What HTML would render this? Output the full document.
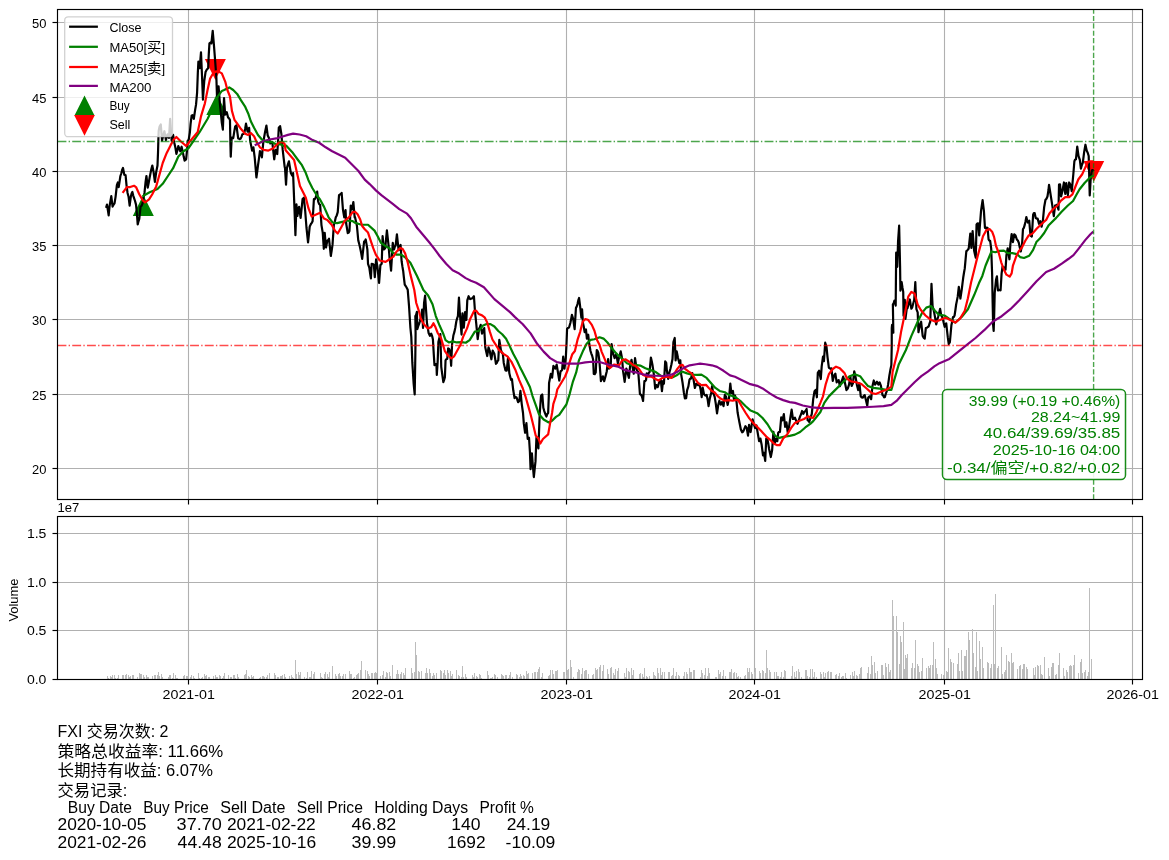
<!DOCTYPE html>
<html lang="zh"><head><meta charset="utf-8"><title>FXI</title>
<style>html,body{margin:0;padding:0;background:#fff}svg{display:block;will-change:transform}</style></head>
<body>
<svg width="1169" height="860" viewBox="0 0 1169 860" font-family='"Liberation Sans", "Noto Sans CJK SC", sans-serif'>
<rect width="1169" height="860" fill="#fff"/>
<g id="main">
<g stroke="#b0b0b0" stroke-width="1.1" fill="none">
<line x1="188.5" y1="9.5" x2="188.5" y2="499.5"/>
<line x1="377.5" y1="9.5" x2="377.5" y2="499.5"/>
<line x1="566.5" y1="9.5" x2="566.5" y2="499.5"/>
<line x1="754.5" y1="9.5" x2="754.5" y2="499.5"/>
<line x1="944.5" y1="9.5" x2="944.5" y2="499.5"/>
<line x1="1132.5" y1="9.5" x2="1132.5" y2="499.5"/>
<line x1="57.5" y1="468.5" x2="1142.5" y2="468.5"/>
<line x1="57.5" y1="394.5" x2="1142.5" y2="394.5"/>
<line x1="57.5" y1="319.5" x2="1142.5" y2="319.5"/>
<line x1="57.5" y1="245.5" x2="1142.5" y2="245.5"/>
<line x1="57.5" y1="171.5" x2="1142.5" y2="171.5"/>
<line x1="57.5" y1="97.5" x2="1142.5" y2="97.5"/>
<line x1="57.5" y1="22.5" x2="1142.5" y2="22.5"/>
</g>
<polygon points="143.3,195.1 132.8,216.1 153.8,216.1" fill="#008000"/>
<polygon points="216.8,94.0 206.3,115.0 227.3,115.0" fill="#008000"/>
<polygon points="215.4,79.9 204.9,58.900000000000006 225.9,58.900000000000006" fill="#ff0000"/>
<polygon points="1093.8,181.70000000000002 1083.3999999999999,160.9 1104.2,160.9" fill="#ff0000"/>
<path d="M106.07,207.89 L106.98,204.64 L107.83,209.82 L108.67,215.44 L109.58,205.94 L110.43,201.10 L111.28,196.17 L112.58,206.59 L113.56,204.73 L114.53,203.33 L115.57,196.82 L116.88,185.10 L117.79,182.50 L118.70,187.06 L119.55,181.61 L120.39,175.99 L121.26,173.51 L122.12,169.89 L122.99,167.92 L124.30,174.69 L125.60,175.34 L126.51,185.10 L127.55,192.92 L128.59,196.82 L129.64,205.68 L130.81,196.82 L131.59,193.60 L132.37,192.01 L133.22,195.55 L134.06,198.12 L135.04,201.01 L136.02,204.64 L136.93,213.75 L137.71,224.43 L138.49,221.30 L139.27,218.96 L140.57,206.59 L141.55,205.85 L142.53,203.33 L143.50,198.10 L144.48,192.92 L145.52,182.50 L146.43,175.99 L147.73,187.71 L148.71,182.84 L149.69,177.29 L150.47,173.36 L151.25,169.48 L152.29,165.57 L153.59,172.08 L154.90,181.85 L156.20,172.08 L157.50,165.57 L158.02,152.55 L158.41,138.23 L158.67,131.07 L159.58,126.51 L160.76,124.43 L162.06,140.57 L163.23,135.62 L164.40,131.20 L165.18,135.76 L165.96,140.05 L166.75,136.69 L167.53,134.32 L168.96,137.97 L170.13,118.96 L170.91,130.01 L171.69,140.96 L173.12,134.84 L174.30,142.66 L175.47,147.99 L176.38,153.85 L177.36,150.43 L178.33,146.04 L179.31,148.69 L180.29,151.25 L181.59,146.69 L182.89,152.55 L183.74,156.85 L184.58,160.62 L185.37,160.15 L186.15,159.06 L187.19,148.65 L187.71,140.83 L188.75,139.53 L189.92,131.98 L190.57,124.17 L191.61,115.70 L192.53,115.05 L193.83,118.96 L195.13,109.84 L196.04,104.64 L197.08,92.92 L197.86,72.08 L198.39,61.67 L199.69,68.18 L200.99,52.29 L202.03,75.99 L202.94,99.69 L204.24,81.20 L205.55,72.08 L206.85,69.48 L208.15,68.18 L208.80,53.85 L209.45,43.44 L210.43,42.66 L211.41,43.44 L212.71,30.81 L214.01,46.04 L215.31,62.97 L216.35,77.29 L217.01,97.08 L217.79,91.95 L218.57,86.41 L219.87,103.33 L220.91,113.75 L221.82,122.86 L222.86,129.64 L224.04,98.12 L225.16,114.74 L225.94,113.60 L226.72,112.14 L228.02,117.34 L229.00,118.29 L229.97,119.95 L230.36,142.08 L230.76,156.67 L231.67,138.18 L232.45,137.34 L233.23,138.18 L234.27,131.67 L235.18,126.46 L236.48,125.16 L237.33,132.05 L238.18,138.44 L238.92,138.52 L239.65,139.09 L240.39,138.83 L241.37,137.23 L242.34,134.27 L243.32,134.01 L244.30,132.97 L245.15,128.68 L245.99,123.59 L246.77,127.52 L247.55,131.67 L248.33,130.26 L249.11,127.76 L250.16,140.78 L251.13,145.61 L252.11,150.55 L253.41,147.29 L254.71,157.71 L255.62,168.12 L256.41,177.50 L257.19,171.81 L257.97,165.52 L258.95,158.64 L259.92,151.20 L260.90,153.60 L261.88,157.32 L263.18,143.39 L264.15,137.21 L265.13,131.67 L266.43,125.55 L267.73,135.57 L269.04,138.18 L270.34,143.39 L271.31,142.23 L272.29,142.08 L273.26,150.96 L274.24,159.27 L275.55,149.90 L276.39,151.87 L277.24,154.06 L278.15,139.48 L278.80,127.76 L280.10,126.20 L281.41,134.27 L282.71,149.90 L283.69,158.44 L284.66,166.82 L285.00,167.81 L286.04,184.74 L286.95,167.81 L287.93,164.25 L288.91,161.30 L289.88,167.17 L290.86,173.02 L292.16,175.62 L293.07,173.02 L294.11,199.06 L294.90,219.90 L295.42,235.13 L296.46,204.27 L297.37,215.99 L298.22,211.32 L299.06,206.88 L299.84,212.30 L300.62,217.94 L301.60,208.55 L302.58,199.06 L303.88,197.76 L305.18,210.78 L306.48,227.71 L307.26,235.05 L308.05,242.29 L308.89,234.58 L309.74,226.41 L311.04,223.80 L311.82,222.83 L312.60,221.20 L313.91,199.06 L314.75,199.18 L315.60,197.76 L316.38,195.18 L317.16,191.64 L318.20,201.67 L319.18,204.18 L320.16,204.92 L321.46,225.10 L322.76,232.92 L323.80,248.80 L324.71,232.92 L326.02,247.50 L327.32,240.73 L328.16,240.06 L329.01,238.78 L329.92,247.18 L330.83,255.96 L331.68,250.59 L332.53,244.64 L333.83,225.10 L334.80,221.80 L335.78,217.29 L336.75,215.41 L337.73,212.08 L339.04,195.16 L339.91,194.54 L340.77,194.06 L341.64,192.94 L342.94,209.48 L344.24,217.29 L345.55,210.13 L346.20,223.80 L346.98,228.23 L347.76,233.18 L348.61,232.67 L349.45,230.96 L350.76,205.57 L352.06,209.48 L353.36,202.06 L354.66,217.29 L355.00,216.93 L355.98,221.57 L356.95,226.04 L358.26,240.36 L359.24,243.99 L360.21,248.18 L361.19,253.09 L362.16,258.85 L363.13,250.48 L364.11,241.67 L364.89,241.44 L365.68,239.45 L366.52,244.10 L367.37,249.48 L368.02,263.80 L369.32,267.71 L370.11,273.29 L370.89,278.39 L371.67,263.80 L372.41,264.07 L373.14,264.04 L373.88,265.10 L374.79,277.08 L376.09,259.24 L377.40,266.41 L378.25,274.56 L379.09,282.94 L380.39,265.10 L381.69,263.80 L382.60,236.20 L383.91,249.48 L385.21,248.18 L386.05,239.40 L386.90,230.34 L387.75,238.18 L388.59,245.57 L389.51,257.29 L390.29,263.64 L391.07,270.57 L391.91,256.81 L392.76,242.97 L394.06,249.48 L394.84,246.71 L395.62,245.57 L396.93,234.24 L397.77,242.31 L398.62,250.13 L399.60,247.22 L400.57,244.92 L401.61,261.20 L402.39,266.41 L403.18,270.96 L403.96,278.09 L404.74,284.64 L405.59,285.95 L406.43,287.24 L407.73,289.84 L409.09,306.93 L410.39,327.76 L411.30,336.88 L412.34,362.92 L413.65,383.75 L414.69,394.43 L415.34,355.10 L415.60,332.97 L415.34,316.04 L416.12,314.86 L416.90,311.88 L417.29,329.06 L418.20,326.12 L419.11,323.85 L419.90,321.25 L420.68,317.99 L421.46,316.04 L422.11,309.53 L423.02,328.02 L424.06,303.02 L425.10,295.60 L426.02,309.53 L426.93,322.55 L427.77,327.85 L428.62,332.97 L429.92,335.83 L431.22,333.62 L432.07,335.84 L432.92,339.48 L433.83,355.10 L434.48,365.13 L435.46,364.13 L436.43,364.22 L436.82,374.90 L437.73,360.31 L438.39,342.08 L439.37,337.93 L440.34,334.01 L441.25,366.82 L442.29,374.64 L443.33,382.06 L444.12,379.83 L444.90,377.24 L445.55,360.31 L446.39,359.04 L447.24,359.01 L448.15,348.33 L449.12,348.94 L450.10,351.20 L451.15,365.78 L452.06,344.69 L453.36,335.57 L454.34,332.15 L455.31,327.76 L456.35,321.25 L457.13,318.35 L457.92,316.04 L458.96,297.55 L459.87,313.44 L460.72,324.18 L461.56,334.53 L462.47,313.44 L463.78,327.76 L465.08,312.14 L466.38,319.95 L467.29,300.42 L468.59,296.25 L469.44,298.39 L470.29,299.11 L471.26,298.57 L472.24,298.46 L473.09,297.28 L473.93,296.25 L474.84,309.53 L476.15,322.55 L476.93,330.83 L477.71,339.09 L479.01,329.06 L479.86,327.24 L480.70,324.90 L482.01,333.62 L482.75,331.97 L483.48,330.08 L484.22,328.15 L485.26,347.29 L486.24,351.80 L487.21,356.02 L488.52,347.29 L489.82,351.20 L490.60,355.69 L491.38,359.27 L492.68,350.55 L493.53,352.19 L494.38,353.80 L495.16,358.76 L495.94,363.83 L496.72,363.05 L497.50,361.01 L498.28,360.31 L499.32,339.87 L500.11,344.72 L500.89,349.90 L501.87,352.71 L502.84,353.80 L503.75,362.92 L504.60,366.66 L505.44,370.34 L506.74,370.73 L508.05,357.71 L509.35,373.33 L510.20,376.65 L511.04,379.84 L511.95,379.19 L513.26,390.26 L514.56,398.07 L515.53,396.87 L516.51,397.42 L517.29,399.69 L518.07,402.24 L519.38,400.68 L520.42,390.91 L521.72,403.85 L523.02,412.97 L523.80,423.39 L525.10,432.76 L526.41,423.12 L527.71,439.01 L529.01,437.71 L529.92,452.03 L530.57,469.22 L531.88,453.33 L532.92,466.35 L533.83,477.03 L534.67,469.14 L535.52,461.15 L536.43,437.71 L537.41,442.58 L538.39,448.39 L539.69,414.27 L540.99,396.04 L542.29,394.48 L543.33,407.76 L544.12,410.55 L544.90,412.97 L545.68,414.96 L546.46,416.48 L547.31,413.93 L548.15,412.97 L548.80,396.04 L549.06,383.02 L549.91,378.59 L550.76,373.91 L552.11,377.66 L553.41,365.94 L554.38,367.18 L555.36,368.54 L556.67,364.64 L557.97,372.45 L559.27,380.52 L560.57,371.15 L561.36,370.82 L562.14,369.84 L563.18,356.56 L564.48,368.54 L565.78,358.12 L566.56,342.50 L567.08,328.83 L568.06,327.91 L569.04,327.53 L570.34,322.97 L571.12,319.15 L571.90,314.90 L573.20,319.06 L574.64,329.09 L575.94,307.99 L576.72,306.47 L577.50,304.09 L578.28,300.39 L579.06,297.97 L580.10,306.04 L581.41,317.76 L582.06,309.30 L582.97,322.97 L583.82,327.09 L584.66,332.08 L585.96,329.48 L586.88,338.59 L588.18,334.69 L589.22,343.80 L590.52,350.96 L591.30,353.55 L592.08,355.52 L593.12,359.43 L593.78,374.01 L594.75,374.06 L595.73,372.45 L596.77,350.05 L597.55,351.04 L598.33,352.92 L599.38,360.73 L600.16,370.93 L600.94,381.17 L601.91,378.93 L602.89,376.35 L604.19,381.17 L605.49,376.35 L606.80,371.15 L608.10,359.17 L609.01,368.54 L609.86,366.92 L610.70,365.94 L611.61,344.19 L612.92,352.92 L613.76,355.29 L614.61,358.12 L615.45,355.83 L616.30,354.22 L617.08,358.66 L617.86,363.33 L619.17,356.82 L619.95,354.23 L620.73,351.35 L622.03,358.12 L623.07,371.15 L623.86,376.33 L624.64,381.82 L625.49,375.10 L626.33,368.54 L627.24,371.15 L628.09,374.89 L628.93,377.92 L630.23,364.64 L631.54,359.82 L632.84,368.54 L633.75,373.75 L635.05,358.12 L635.80,363.46 L636.56,369.48 L637.41,370.90 L638.26,372.08 L639.11,383.25 L639.95,394.22 L640.73,394.53 L641.51,395.52 L642.29,397.84 L643.07,400.99 L644.38,381.20 L645.23,381.10 L646.07,379.90 L646.72,373.39 L648.02,374.69 L648.80,372.91 L649.58,372.08 L650.89,357.50 L651.74,361.19 L652.58,365.57 L653.88,374.69 L655.18,388.62 L656.48,385.10 L657.79,387.06 L659.09,382.50 L659.93,381.08 L660.78,379.90 L661.95,391.22 L662.99,381.20 L663.91,383.80 L665.21,361.41 L666.25,362.97 L666.90,370.78 L668.20,378.85 L669.51,372.08 L670.49,368.43 L671.46,364.27 L672.50,359.06 L673.41,342.14 L674.71,337.97 L675.62,360.36 L676.67,351.25 L677.97,357.76 L679.27,362.97 L680.31,360.36 L681.22,374.69 L682.53,382.50 L683.83,392.27 L684.87,398.39 L686.17,398.12 L687.08,390.31 L688.39,386.41 L689.43,379.90 L690.21,378.53 L690.99,378.59 L692.29,373.12 L693.59,379.90 L694.90,387.97 L696.20,383.80 L697.17,384.13 L698.15,385.10 L699.45,383.80 L700.76,390.31 L701.67,397.08 L702.71,387.71 L704.01,394.22 L705.31,395.52 L706.61,394.87 L707.66,399.43 L708.57,406.20 L709.87,398.12 L711.17,392.92 L712.08,386.15 L713.12,392.92 L713.90,394.57 L714.69,396.82 L715.73,403.33 L717.03,413.36 L718.33,404.64 L719.38,400.73 L720.16,403.29 L720.94,404.64 L721.98,402.03 L722.76,404.00 L723.54,406.20 L724.84,394.87 L726.15,396.82 L726.93,401.22 L727.71,404.90 L729.01,398.12 L730.31,383.54 L731.35,392.92 L732.13,391.34 L732.92,390.96 L733.96,399.43 L735.00,395.57 L735.78,398.62 L736.56,402.08 L737.60,412.50 L738.58,417.86 L739.56,422.92 L740.86,429.43 L742.16,432.29 L743.13,431.55 L744.11,429.43 L745.42,426.17 L746.72,428.12 L748.02,435.55 L749.06,424.87 L749.84,428.39 L750.62,432.03 L751.60,425.49 L752.58,419.40 L753.88,424.22 L755.18,428.12 L756.48,425.52 L757.79,433.33 L759.09,441.15 L760.39,438.54 L761.69,445.05 L762.99,455.47 L763.91,452.86 L765.21,460.94 L766.25,438.54 L767.55,439.84 L768.33,444.05 L769.11,448.96 L769.96,453.03 L770.81,457.03 L772.11,450.26 L773.41,431.77 L774.71,443.75 L776.02,438.54 L777.32,441.15 L778.23,432.68 L779.08,431.80 L779.92,432.03 L781.22,417.45 L782.53,420.31 L783.83,414.19 L785.13,426.82 L786.43,422.27 L787.73,432.29 L789.04,426.82 L790.34,417.71 L791.64,409.64 L792.94,419.01 L793.92,418.91 L794.90,417.71 L796.20,420.96 L797.50,423.83 L798.80,420.31 L800.10,416.41 L801.08,414.28 L802.06,410.94 L803.36,413.80 L804.34,411.93 L805.31,411.20 L806.61,408.98 L807.66,420.31 L808.44,420.70 L809.22,421.88 L810.52,417.71 L811.82,413.80 L813.23,398.96 L814.53,391.15 L815.83,389.84 L816.88,397.27 L817.79,372.92 L819.09,370.70 L819.93,375.20 L820.78,379.04 L821.69,366.41 L822.99,356.64 L823.91,361.20 L824.56,352.08 L825.21,342.71 L826.51,346.88 L827.55,357.29 L828.85,367.71 L829.72,368.18 L830.59,368.69 L831.46,368.36 L832.76,380.99 L834.06,375.52 L835.36,373.57 L836.67,382.29 L837.64,380.91 L838.62,380.08 L839.92,386.20 L840.90,382.80 L841.88,380.73 L843.18,376.56 L844.48,380.73 L845.45,385.19 L846.43,390.10 L847.73,388.54 L849.04,384.64 L850.34,376.56 L851.64,385.94 L852.94,383.33 L854.24,371.35 L855.55,376.82 L856.85,384.64 L858.15,390.10 L859.45,383.33 L860.76,396.35 L861.74,397.53 L862.71,397.66 L863.68,395.94 L864.66,395.05 L865.96,400.26 L867.27,405.73 L868.18,397.66 L869.02,396.73 L869.87,396.35 L871.17,399.22 L872.47,385.94 L873.78,380.47 L875.08,384.64 L876.06,383.06 L877.03,381.77 L878.33,384.64 L879.64,382.42 L880.94,385.94 L881.72,390.42 L882.50,395.05 L883.28,395.63 L884.06,397.29 L884.84,397.27 L885.82,393.64 L886.80,391.15 L888.10,384.64 L889.40,375.52 L890.38,369.82 L891.35,365.10 L891.74,345.57 L891.77,328.03 L892.09,324.89 L893.34,332.74 L892.87,304.48 L893.65,303.32 L894.44,300.56 L895.70,305.58 L896.17,252.68 L897.27,266.81 L898.05,241.69 L899.15,225.68 L900.09,266.81 L900.41,290.67 L901.66,282.19 L902.44,287.38 L903.23,291.92 L903.55,315.78 L904.80,299.77 L905.43,318.92 L906.69,309.19 L907.48,308.11 L908.26,305.27 L909.05,302.27 L909.83,299.46 L910.62,304.50 L911.40,308.72 L912.18,307.37 L912.97,304.48 L914.22,299.77 L915.32,282.19 L916.42,309.19 L917.68,312.33 L918.46,332.27 L919.25,328.27 L920.03,324.89 L921.13,321.75 L921.91,328.96 L922.70,335.88 L923.72,337.82 L924.74,338.55 L925.84,328.03 L926.78,327.80 L927.73,327.02 L928.67,326.46 L929.45,323.74 L930.24,321.75 L931.49,283.76 L932.59,306.05 L933.38,308.98 L934.16,312.33 L935.18,318.13 L936.20,324.42 L937.14,320.15 L938.08,317.04 L939.11,313.08 L940.13,308.88 L941.22,315.47 L942.00,316.66 L942.79,318.61 L943.73,323.07 L944.68,326.77 L945.46,324.23 L946.25,323.32 L947.04,330.63 L947.82,337.45 L948.76,344.04 L949.86,342.16 L950.64,333.62 L951.43,324.89 L952.21,321.41 L953.00,317.04 L953.79,316.97 L954.57,315.47 L955.36,310.28 L956.14,304.48 L956.92,300.64 L957.71,296.63 L958.81,286.90 L959.60,292.36 L960.38,298.52 L961.63,290.35 L962.41,284.23 L963.20,277.79 L963.99,272.79 L964.77,268.38 L965.56,259.65 L966.34,251.11 L967.13,250.62 L967.91,249.58 L968.70,248.75 L969.49,241.09 L970.27,233.52 L971.37,247.97 L972.62,231.17 L973.40,241.33 L974.19,251.11 L974.98,254.55 L975.76,257.70 L976.55,224.42 L977.34,223.58 L978.12,223.32 L979.22,235.41 L979.74,227.76 L981.04,210.83 L981.82,205.30 L982.60,200.16 L983.91,210.83 L984.95,227.76 L985.82,228.41 L986.68,227.72 L987.55,227.76 L988.59,239.48 L989.38,240.64 L990.16,240.78 L991.20,248.59 L992.11,273.33 L992.63,301.98 L993.15,325.42 L993.67,330.89 L994.19,315.00 L994.71,292.86 L996.02,279.84 L996.93,276.33 L997.97,290.52 L998.84,290.17 L999.70,289.80 L1000.57,290.26 L1001.61,273.33 L1002.53,266.56 L1003.83,267.47 L1004.67,268.64 L1005.52,269.69 L1006.43,255.10 L1007.73,248.33 L1008.58,254.06 L1009.43,259.27 L1010.34,244.69 L1011.64,234.01 L1012.94,242.08 L1014.24,234.27 L1015.55,235.57 L1016.85,239.48 L1017.83,240.51 L1018.80,242.73 L1019.78,247.44 L1020.76,251.46 L1022.06,244.69 L1022.97,229.06 L1023.82,227.87 L1024.66,225.16 L1025.51,221.46 L1026.35,217.08 L1027.13,220.30 L1027.92,222.55 L1029.22,220.60 L1030.52,235.57 L1031.82,236.48 L1033.12,214.74 L1033.90,213.07 L1034.69,213.18 L1035.73,217.99 L1036.70,218.55 L1037.68,218.65 L1038.98,223.85 L1040.29,221.25 L1041.59,226.72 L1042.89,220.60 L1044.19,206.93 L1045.49,199.77 L1046.47,198.79 L1047.45,196.51 L1048.49,190.00 L1049.01,184.79 L1049.88,189.92 L1050.76,195.61 L1051.63,201.12 L1052.50,206.82 L1053.80,216.20 L1055.10,205.52 L1055.95,205.24 L1056.80,204.87 L1057.64,207.14 L1058.49,209.69 L1059.01,184.69 L1060.05,184.43 L1061.09,196.41 L1062.40,191.20 L1063.18,186.81 L1063.96,182.47 L1065.26,193.80 L1066.30,183.12 L1067.08,189.30 L1067.86,195.10 L1069.17,182.47 L1070.47,184.69 L1071.77,191.20 L1072.55,182.49 L1073.33,174.27 L1074.38,161.25 L1075.16,159.47 L1075.94,159.30 L1077.24,146.67 L1078.54,156.04 L1079.84,159.95 L1080.89,168.67 L1081.87,165.00 L1082.84,162.55 L1084.14,152.14 L1085.44,144.71 L1086.74,150.83 L1087.72,152.76 L1088.70,156.04 L1089.74,195.36 L1090.65,179.48 L1091.95,170.36 L1092.80,170.11 L1093.65,171.41" fill="none" stroke="#000" stroke-width="2.2" stroke-linejoin="round" stroke-linecap="butt"/>
<path d="M142.53,196.17 L149.69,192.27 L157.50,189.01 L162.71,183.80 L167.92,175.99 L173.12,168.18 L178.33,156.46 L183.54,151.25 L188.75,147.99 L199.69,131.98 L203.59,125.47 L207.50,118.96 L210.10,113.75 L213.36,105.94 L216.61,98.12 L221.82,90.96 L224.11,90.00 L229.32,87.40 L233.23,90.00 L237.14,93.91 L241.04,100.42 L244.95,106.28 L248.20,113.44 L250.81,121.25 L254.06,127.76 L257.97,134.92 L261.88,139.48 L267.08,142.08 L272.29,142.08 L276.20,144.69 L280.10,144.04 L283.36,145.99 L286.30,145.68 L292.81,152.84 L298.02,160.00 L301.93,165.21 L305.83,173.02 L308.44,180.18 L312.34,187.99 L316.25,194.51 L320.16,199.71 L324.06,206.88 L328.62,217.29 L332.53,222.50 L337.08,223.15 L342.29,221.85 L347.50,220.55 L352.71,221.20 L355.00,222.79 L361.51,224.74 L368.02,224.74 L374.53,230.60 L377.79,236.46 L381.04,242.97 L385.60,246.22 L389.51,248.18 L392.11,252.08 L396.67,254.69 L401.22,254.69 L405.78,257.94 L410.39,262.66 L416.90,275.68 L423.41,290.00 L427.97,295.21 L432.53,304.32 L435.78,316.04 L439.69,325.81 L442.94,332.97 L445.55,340.13 L448.80,342.47 L452.71,341.43 L456.61,342.47 L461.82,342.08 L465.73,342.73 L469.64,340.13 L474.84,331.67 L478.75,331.02 L482.66,325.81 L486.56,324.11 L490.47,324.11 L494.38,326.46 L498.28,331.02 L502.19,334.27 L506.09,338.83 L509.35,345.34 L513.26,353.80 L517.16,360.96 L520.42,368.12 L521.46,370.00 L525.36,377.81 L529.92,386.93 L532.53,396.04 L535.78,405.16 L539.04,414.27 L543.59,419.48 L548.80,422.47 L552.06,420.78 L555.96,416.88 L559.22,414.92 L563.12,409.06 L566.38,404.51 L569.64,394.09 L572.94,381.56 L576.20,372.45 L578.80,360.73 L582.71,351.61 L586.61,343.80 L590.52,339.90 L594.43,339.24 L599.64,337.29 L603.54,338.59 L607.45,342.50 L611.35,347.71 L615.26,352.27 L619.17,356.17 L623.07,359.43 L626.98,363.33 L632.19,365.29 L635.00,364.92 L640.21,365.57 L645.42,368.18 L650.62,370.13 L655.83,372.08 L661.04,375.99 L666.25,376.64 L672.76,377.29 L676.67,375.34 L681.88,371.43 L687.08,373.39 L692.29,374.69 L697.50,374.95 L701.41,374.69 L706.61,377.94 L710.52,382.50 L715.08,387.71 L719.64,390.96 L724.84,392.27 L728.75,394.87 L733.96,396.56 L735.00,396.88 L740.21,400.78 L745.42,405.99 L750.62,410.55 L757.14,413.15 L762.34,417.71 L767.55,424.22 L771.46,430.73 L775.36,435.94 L779.27,437.89 L784.48,436.59 L789.69,435.94 L794.90,434.64 L800.10,432.03 L805.31,427.47 L810.52,423.57 L813.23,421.09 L820.39,411.98 L824.30,402.86 L828.85,396.35 L834.06,391.15 L839.27,385.94 L844.48,380.73 L849.69,376.17 L854.90,374.22 L860.10,376.17 L864.01,381.38 L867.92,385.94 L873.12,387.89 L879.64,388.54 L886.15,389.84 L891.35,389.84 L898.84,364.14 L905.90,350.01 L911.40,335.88 L917.68,321.75 L922.39,312.33 L926.31,307.62 L931.02,306.05 L934.95,310.76 L938.87,314.69 L944.36,315.47 L949.07,318.61 L955.35,322.54 L961.63,317.04 L967.91,309.19 L974.19,295.06 L978.90,283.29 L982.34,275.94 L985.60,265.52 L988.85,257.71 L991.46,251.46 L995.36,252.24 L999.27,250.94 L1003.83,250.55 L1007.73,253.15 L1012.29,253.15 L1016.85,254.06 L1020.10,257.06 L1024.01,257.97 L1029.22,255.76 L1033.12,249.90 L1036.38,242.08 L1039.64,238.83 L1044.19,232.97 L1048.75,225.16 L1056.15,217.89 L1061.35,212.03 L1067.86,205.52 L1073.07,200.96 L1076.98,193.80 L1079.58,189.24 L1084.79,182.73 L1090.00,177.53 L1093.65,175.44" fill="none" stroke="#008000" stroke-width="2.2" stroke-linejoin="round"/>
<path d="M122.60,192.92 L126.90,187.06 L130.16,187.06 L134.06,185.76 L136.02,187.06 L139.27,194.22 L142.53,200.08 L145.13,202.29 L149.04,199.43 L152.29,194.22 L156.20,186.41 L159.45,174.69 L162.71,162.97 L166.61,153.20 L170.52,145.39 L173.78,139.53 L176.38,136.93 L180.94,141.48 L186.15,146.04 L197.73,131.98 L200.99,116.35 L204.90,103.33 L207.50,90.31 L210.10,78.59 L212.71,74.04 L215.96,71.43 L219.22,71.82 L221.82,73.39 L225.42,82.19 L227.37,90.00 L229.97,96.51 L231.93,110.83 L234.53,119.95 L237.79,124.51 L241.04,129.06 L244.95,133.62 L248.20,134.92 L250.81,132.97 L254.06,136.22 L256.67,142.08 L259.92,147.29 L263.83,149.90 L268.39,150.55 L272.94,148.59 L276.20,145.34 L279.45,142.08 L282.71,142.08 L284.66,144.04 L285.65,150.23 L294.11,160.00 L296.72,171.72 L299.97,186.04 L303.23,192.55 L305.83,197.76 L308.44,208.18 L311.69,216.64 L315.60,214.69 L320.16,212.73 L324.06,218.59 L327.32,219.90 L331.88,225.10 L335.13,230.96 L337.73,233.57 L340.99,227.71 L344.90,220.55 L348.80,217.29 L352.71,212.08 L355.00,211.72 L357.60,214.32 L360.21,219.53 L362.16,226.04 L364.77,229.30 L368.02,232.55 L370.62,240.36 L373.23,248.18 L375.83,254.69 L379.74,260.55 L385.60,261.85 L389.51,259.24 L393.41,256.64 L396.67,251.43 L399.92,248.18 L402.53,248.83 L405.13,253.39 L407.79,262.66 L410.39,274.38 L414.30,290.00 L416.25,303.02 L418.85,310.83 L420.81,318.65 L424.06,324.51 L427.97,328.41 L431.22,327.11 L433.44,323.20 L435.13,326.46 L437.73,332.97 L440.99,338.18 L442.94,344.69 L444.90,351.20 L448.15,355.76 L451.41,358.36 L454.01,356.41 L457.27,350.55 L460.52,344.69 L463.12,336.88 L467.03,328.41 L470.29,318.65 L474.19,310.83 L476.15,310.57 L478.75,314.09 L482.01,315.39 L484.61,317.34 L487.21,322.55 L489.82,331.67 L492.42,339.48 L495.68,344.69 L498.93,349.90 L503.49,353.80 L507.40,356.41 L511.30,361.61 L515.21,369.43 L519.11,379.84 L522.76,388.23 L525.36,396.04 L527.97,405.16 L530.57,414.27 L533.18,424.69 L535.78,435.76 L538.39,438.36 L540.34,443.57 L542.94,439.01 L548.15,434.45 L550.10,423.39 L552.06,412.97 L553.36,403.85 L555.96,396.04 L557.27,389.53 L561.17,383.02 L565.08,376.51 L567.68,370.00 L569.69,362.03 L572.29,354.22 L574.90,350.96 L577.50,339.90 L580.10,332.08 L582.71,321.67 L585.31,319.06 L587.92,319.71 L591.82,324.92 L594.43,330.78 L597.03,339.90 L599.64,345.10 L601.59,351.61 L604.84,359.43 L607.45,365.94 L610.05,367.89 L613.96,364.64 L619.17,365.29 L622.42,360.08 L625.68,359.43 L629.58,362.03 L633.49,365.29 L635.00,365.57 L638.91,368.83 L642.81,374.69 L646.72,376.64 L651.28,376.64 L654.53,378.59 L658.44,380.55 L662.34,377.94 L666.25,376.64 L671.46,377.94 L674.06,374.04 L677.32,368.83 L679.92,365.57 L682.53,364.92 L685.13,368.83 L688.39,371.43 L691.64,373.39 L694.90,378.59 L698.15,383.15 L701.41,385.10 L705.96,384.84 L708.57,387.71 L711.82,390.96 L714.43,392.27 L717.68,396.17 L720.94,398.78 L724.84,400.73 L728.75,400.08 L732.66,400.73 L735.00,400.13 L738.26,400.13 L741.51,405.99 L745.42,412.50 L749.32,418.36 L753.23,422.92 L757.14,426.82 L761.04,430.73 L766.25,436.59 L770.16,439.84 L774.06,443.75 L776.67,445.05 L779.92,445.05 L783.18,438.54 L787.08,434.64 L790.99,428.12 L794.90,422.92 L798.80,420.96 L804.01,419.01 L807.92,416.41 L811.82,417.71 L813.23,417.84 L816.48,411.98 L820.39,402.86 L822.99,396.35 L825.60,384.64 L828.85,374.22 L832.76,369.01 L836.02,366.67 L839.92,368.36 L844.48,372.92 L847.08,378.78 L850.99,381.38 L856.20,382.29 L861.41,383.98 L866.61,388.54 L871.82,393.10 L875.73,394.01 L880.94,391.80 L886.15,389.84 L891.35,386.59 L892.56,371.99 L898.05,350.01 L901.19,331.17 L905.12,312.33 L908.26,296.63 L911.40,291.92 L914.54,293.49 L917.68,304.48 L920.82,309.98 L925.53,315.47 L930.24,319.40 L935.73,321.75 L941.22,319.40 L945.93,317.83 L950.64,320.18 L955.35,322.54 L960.06,318.61 L964.77,310.76 L967.91,298.20 L971.05,282.50 L974.19,269.95 L977.33,257.39 L980.39,245.99 L982.99,236.22 L986.25,230.36 L989.51,229.06 L992.11,231.67 L994.06,236.88 L996.02,245.99 L998.62,252.50 L1001.22,262.27 L1003.83,269.43 L1006.43,274.64 L1009.69,276.59 L1011.64,273.33 L1012.94,265.52 L1016.20,256.41 L1018.80,251.20 L1022.06,247.29 L1025.31,240.78 L1028.57,235.57 L1032.47,233.62 L1036.38,229.06 L1040.94,224.51 L1046.15,219.95 L1049.40,213.44 L1053.54,208.78 L1057.45,205.52 L1060.70,200.96 L1065.26,197.06 L1069.17,197.06 L1072.42,194.45 L1075.68,185.99 L1078.28,179.48 L1082.19,174.27 L1085.44,167.11 L1088.05,161.90 L1090.65,161.25 L1093.65,161.38" fill="none" stroke="#ff0000" stroke-width="2.2" stroke-linejoin="round"/>
<path d="M254.71,145.34 L259.27,143.12 L264.48,140.78 L269.69,139.48 L276.20,138.44 L282.71,136.48 L287.92,134.92 L293.12,133.62 L299.64,134.53 L306.15,136.22 L312.66,140.13 L319.17,142.73 L325.68,147.29 L332.19,151.20 L338.70,154.45 L345.21,157.71 L351.72,164.22 L358.23,170.73 L364.74,179.58 L369.64,184.09 L376.15,190.60 L381.35,195.16 L392.76,203.91 L399.27,209.11 L407.08,213.67 L410.99,218.23 L416.20,226.69 L422.71,234.51 L429.22,242.32 L434.43,248.83 L439.64,255.99 L446.15,263.80 L452.66,270.31 L459.17,273.57 L465.68,278.12 L470.89,280.73 L476.09,282.68 L483.91,287.24 L494.38,299.11 L502.19,305.62 L510.00,312.14 L515.00,317.11 L522.81,324.27 L530.62,333.39 L537.14,343.80 L543.65,351.61 L550.16,358.12 L556.67,362.03 L563.18,363.33 L569.69,363.72 L577.50,363.72 L585.31,362.42 L591.82,361.77 L599.64,362.03 L606.15,363.98 L611.35,365.29 L617.86,366.59 L624.38,369.84 L632.19,371.80 L635.00,372.08 L641.51,374.04 L648.02,375.34 L655.83,375.73 L663.65,375.99 L671.46,374.69 L677.97,371.43 L684.48,367.53 L689.69,365.31 L696.20,364.27 L700.10,363.62 L705.31,364.27 L711.82,365.31 L717.03,366.88 L723.54,370.78 L730.05,375.34 L735.00,376.69 L741.51,379.95 L749.32,383.85 L757.14,385.81 L763.65,389.06 L770.16,393.62 L776.67,397.53 L783.18,400.13 L789.69,402.08 L795.00,402.86 L802.81,405.47 L811.93,407.42 L821.04,408.07 L834.06,407.81 L847.08,407.81 L860.10,407.42 L873.12,406.77 L883.54,406.12 L891.35,404.82 L896.56,400.91 L901.77,395.05 L908.28,388.54 L914.79,382.03 L921.30,376.17 L927.81,371.61 L934.32,366.41 L939.53,363.15 L949.36,358.93 L958.08,351.95 L966.80,344.98 L975.51,338.00 L984.23,330.16 L992.95,321.44 L1001.67,316.21 L1010.39,309.23 L1019.11,300.51 L1027.82,290.92 L1036.54,281.33 L1046.15,272.03 L1053.96,268.78 L1061.77,263.57 L1068.28,259.01 L1073.49,255.10 L1078.70,248.59 L1085.21,240.13 L1090.42,234.27 L1093.28,231.67" fill="none" stroke="#800080" stroke-width="2.2" stroke-linejoin="round"/>
<line x1="57.5" y1="141.5" x2="1142.5" y2="141.5" stroke="#008000" stroke-opacity="0.7" stroke-width="1.45" stroke-dasharray="8.9 2.22 1.39 2.22"/>
<line x1="57.5" y1="345.5" x2="1142.5" y2="345.5" stroke="#ff0000" stroke-opacity="0.7" stroke-width="1.45" stroke-dasharray="8.9 2.22 1.39 2.22"/>
<line x1="1093.6" y1="499.5" x2="1093.6" y2="9.5" stroke="#008000" stroke-opacity="0.7" stroke-width="1.39" stroke-dasharray="5.14 2.22"/>
<rect x="942.5" y="389.5" width="183" height="90" rx="4.5" ry="4.5" fill="#fff" fill-opacity="0.9" stroke="#008000" stroke-opacity="0.9" stroke-width="1.5"/>
<text x="1120.3" y="405.7" font-size="14.7" text-anchor="end" fill="#008000" textLength="151.6" lengthAdjust="spacingAndGlyphs">39.99 (+0.19 +0.46%)</text>
<text x="1120.3" y="421.9" font-size="14.7" text-anchor="end" fill="#008000" textLength="89.4" lengthAdjust="spacingAndGlyphs">28.24~41.99</text>
<text x="1120.3" y="438.2" font-size="14.7" text-anchor="end" fill="#008000" textLength="137" lengthAdjust="spacingAndGlyphs">40.64/39.69/35.85</text>
<text x="1120.3" y="454.7" font-size="14.7" text-anchor="end" fill="#008000" textLength="127.5" lengthAdjust="spacingAndGlyphs">2025-10-16 04:00</text>
<text x="1120.3" y="473.4" font-size="14.7" text-anchor="end" fill="#008000" textLength="173.3" lengthAdjust="spacingAndGlyphs">-0.34/偏空/+0.82/+0.02</text>
<rect x="64.7" y="16.8" width="107.8" height="119.9" rx="3.5" ry="3.5" fill="#fff" fill-opacity="0.8" stroke="#ccc" stroke-opacity="0.9" stroke-width="1.3"/>
<line x1="69.1" y1="26.7" x2="97.9" y2="26.7" stroke="#000" stroke-width="2.25"/>
<line x1="69.1" y1="46.8" x2="97.9" y2="46.8" stroke="#008000" stroke-width="2.25"/>
<line x1="69.1" y1="67.0" x2="97.9" y2="67.0" stroke="#ff0000" stroke-width="2.25"/>
<line x1="69.1" y1="85.9" x2="97.9" y2="85.9" stroke="#800080" stroke-width="2.25"/>
<polygon points="84.5,95.5 74.6,115.30000000000001 94.4,115.30000000000001" fill="#008000"/>
<polygon points="84.5,135.85 74.1,115.05 94.9,115.05" fill="#ff0000"/>
<text x="109.4" y="31.8" font-size="12.3" text-anchor="start" fill="#000" textLength="32" lengthAdjust="spacingAndGlyphs">Close</text>
<text x="109.4" y="51.9" font-size="12.3" text-anchor="start" fill="#000" textLength="55.8" lengthAdjust="spacingAndGlyphs">MA50[<tspan font-size="13.6">买</tspan>]</text>
<text x="109.4" y="72.9" font-size="12.3" text-anchor="start" fill="#000" textLength="55.8" lengthAdjust="spacingAndGlyphs">MA25[<tspan font-size="13.6">卖</tspan>]</text>
<text x="109.4" y="91.6" font-size="12.3" text-anchor="start" fill="#000" textLength="42.1" lengthAdjust="spacingAndGlyphs">MA200</text>
<text x="109.4" y="109.5" font-size="12.3" text-anchor="start" fill="#000" textLength="20.4" lengthAdjust="spacingAndGlyphs">Buy</text>
<text x="109.4" y="128.7" font-size="12.3" text-anchor="start" fill="#000" textLength="20.9" lengthAdjust="spacingAndGlyphs">Sell</text>
<rect x="57.5" y="9.5" width="1085.0" height="490.0" fill="none" stroke="#000" stroke-width="1.15"/>
<g stroke="#000" stroke-width="1.15">
<line x1="52.5" y1="468.5" x2="57.5" y2="468.5"/>
<line x1="52.5" y1="394.5" x2="57.5" y2="394.5"/>
<line x1="52.5" y1="319.5" x2="57.5" y2="319.5"/>
<line x1="52.5" y1="245.5" x2="57.5" y2="245.5"/>
<line x1="52.5" y1="171.5" x2="57.5" y2="171.5"/>
<line x1="52.5" y1="97.5" x2="57.5" y2="97.5"/>
<line x1="52.5" y1="22.5" x2="57.5" y2="22.5"/>
<line x1="188.5" y1="499.5" x2="188.5" y2="504.5"/>
<line x1="377.5" y1="499.5" x2="377.5" y2="504.5"/>
<line x1="566.5" y1="499.5" x2="566.5" y2="504.5"/>
<line x1="754.5" y1="499.5" x2="754.5" y2="504.5"/>
<line x1="944.5" y1="499.5" x2="944.5" y2="504.5"/>
<line x1="1132.5" y1="499.5" x2="1132.5" y2="504.5"/>
</g>
<text x="46.4" y="473.7" font-size="12.3" text-anchor="end" fill="#000" textLength="14.4" lengthAdjust="spacingAndGlyphs">20</text>
<text x="46.4" y="399.7" font-size="12.3" text-anchor="end" fill="#000" textLength="14.4" lengthAdjust="spacingAndGlyphs">25</text>
<text x="46.4" y="324.7" font-size="12.3" text-anchor="end" fill="#000" textLength="14.4" lengthAdjust="spacingAndGlyphs">30</text>
<text x="46.4" y="250.7" font-size="12.3" text-anchor="end" fill="#000" textLength="14.4" lengthAdjust="spacingAndGlyphs">35</text>
<text x="46.4" y="176.7" font-size="12.3" text-anchor="end" fill="#000" textLength="14.4" lengthAdjust="spacingAndGlyphs">40</text>
<text x="46.4" y="102.7" font-size="12.3" text-anchor="end" fill="#000" textLength="14.4" lengthAdjust="spacingAndGlyphs">45</text>
<text x="46.4" y="27.7" font-size="12.3" text-anchor="end" fill="#000" textLength="14.4" lengthAdjust="spacingAndGlyphs">50</text>
</g>
<g id="vol">
<g stroke="#b0b0b0" stroke-width="1.1" fill="none">
<line x1="188.5" y1="516.5" x2="188.5" y2="679.5"/>
<line x1="377.5" y1="516.5" x2="377.5" y2="679.5"/>
<line x1="566.5" y1="516.5" x2="566.5" y2="679.5"/>
<line x1="754.5" y1="516.5" x2="754.5" y2="679.5"/>
<line x1="944.5" y1="516.5" x2="944.5" y2="679.5"/>
<line x1="1132.5" y1="516.5" x2="1132.5" y2="679.5"/>
<line x1="57.5" y1="630.5" x2="1142.5" y2="630.5"/>
<line x1="57.5" y1="582.5" x2="1142.5" y2="582.5"/>
<line x1="57.5" y1="533.5" x2="1142.5" y2="533.5"/>
</g>
<path d="M107,679.5v-3.6h1v3.6zM108,679.5v-1.6h1v1.6zM110,679.5v-3.3h1v3.3zM111,679.5v-2.4h1v2.4zM112,679.5v-4.5h1v4.5zM114,679.5v-4.5h1v4.5zM115,679.5v-1.2h1v1.2zM117,679.5v-2.0h1v2.0zM118,679.5v-4.5h1v4.5zM122,679.5v-4.5h1v4.5zM123,679.5v-4.1h1v4.1zM125,679.5v-4.1h1v4.1zM126,679.5v-6.0h1v6.0zM128,679.5v-4.2h1v4.2zM129,679.5v-2.9h1v2.9zM130,679.5v-3.8h1v3.8zM132,679.5v-4.2h1v4.2zM133,679.5v-4.2h1v4.2zM137,679.5v-2.9h1v2.9zM139,679.5v-6.1h1v6.1zM140,679.5v-5.3h1v5.3zM141,679.5v-5.3h1v5.3zM143,679.5v-4.7h1v4.7zM144,679.5v-3.0h1v3.0zM146,679.5v-4.3h1v4.3zM147,679.5v-3.0h1v3.0zM148,679.5v-3.0h1v3.0zM152,679.5v-3.5h1v3.5zM154,679.5v-4.1h1v4.1zM155,679.5v-4.7h1v4.7zM157,679.5v-4.3h1v4.3zM158,679.5v-8.0h1v8.0zM159,679.5v-3.9h1v3.9zM161,679.5v-5.4h1v5.4zM162,679.5v-2.6h1v2.6zM168,679.5v-2.2h1v2.2zM169,679.5v-4.4h1v4.4zM170,679.5v-4.4h1v4.4zM172,679.5v-1.8h1v1.8zM173,679.5v-6.4h1v6.4zM175,679.5v-4.4h1v4.4zM176,679.5v-1.3h1v1.3zM177,679.5v-1.8h1v1.8zM183,679.5v-4.0h1v4.0zM184,679.5v-4.5h1v4.5zM186,679.5v-3.1h1v3.1zM187,679.5v-3.6h1v3.6zM188,679.5v-3.6h1v3.6zM190,679.5v-2.7h1v2.7zM191,679.5v-5.0h1v5.0zM193,679.5v-3.6h1v3.6zM194,679.5v-1.8h1v1.8zM198,679.5v-6.6h1v6.6zM199,679.5v-1.8h1v1.8zM201,679.5v-1.4h1v1.4zM202,679.5v-2.3h1v2.3zM204,679.5v-5.7h1v5.7zM205,679.5v-3.1h1v3.1zM206,679.5v-4.6h1v4.6zM208,679.5v-2.8h1v2.8zM209,679.5v-2.8h1v2.8zM213,679.5v-3.7h1v3.7zM215,679.5v-4.6h1v4.6zM216,679.5v-2.3h1v2.3zM217,679.5v-2.3h1v2.3zM219,679.5v-4.6h1v4.6zM220,679.5v-3.7h1v3.7zM222,679.5v-1.9h1v1.9zM223,679.5v-3.3h1v3.3zM224,679.5v-6.3h1v6.3zM228,679.5v-4.7h1v4.7zM230,679.5v-2.8h1v2.8zM231,679.5v-2.8h1v2.8zM233,679.5v-4.2h1v4.2zM234,679.5v-4.3h1v4.3zM235,679.5v-1.9h1v1.9zM237,679.5v-5.9h1v5.9zM238,679.5v-2.4h1v2.4zM244,679.5v-4.3h1v4.3zM245,679.5v-5.2h1v5.2zM246,679.5v-9.4h1v9.4zM248,679.5v-3.4h1v3.4zM249,679.5v-2.9h1v2.9zM251,679.5v-4.5h1v4.5zM252,679.5v-2.4h1v2.4zM253,679.5v-3.4h1v3.4zM259,679.5v-1.5h1v1.5zM260,679.5v-2.9h1v2.9zM262,679.5v-3.9h1v3.9zM263,679.5v-3.4h1v3.4zM264,679.5v-2.9h1v2.9zM266,679.5v-2.4h1v2.4zM267,679.5v-4.9h1v4.9zM269,679.5v-6.1h1v6.1zM274,679.5v-6.2h1v6.2zM275,679.5v-4.4h1v4.4zM277,679.5v-3.0h1v3.0zM278,679.5v-2.5h1v2.5zM280,679.5v-3.3h1v3.3zM281,679.5v-3.5h1v3.5zM282,679.5v-4.5h1v4.5zM284,679.5v-5.5h1v5.5zM285,679.5v-2.5h1v2.5zM289,679.5v-3.5h1v3.5zM291,679.5v-4.5h1v4.5zM292,679.5v-3.0h1v3.0zM293,679.5v-2.0h1v2.0zM295,679.5v-20.0h1v20.0zM296,679.5v-5.6h1v5.6zM298,679.5v-7.4h1v7.4zM299,679.5v-4.1h1v4.1zM300,679.5v-7.4h1v7.4zM304,679.5v-2.6h1v2.6zM306,679.5v-1.5h1v1.5zM307,679.5v-7.5h1v7.5zM309,679.5v-2.8h1v2.8zM310,679.5v-2.1h1v2.1zM311,679.5v-8.8h1v8.8zM313,679.5v-5.2h1v5.2zM314,679.5v-7.6h1v7.6zM320,679.5v-6.6h1v6.6zM321,679.5v-2.1h1v2.1zM322,679.5v-1.6h1v1.6zM324,679.5v-5.9h1v5.9zM325,679.5v-7.8h1v7.8zM327,679.5v-5.4h1v5.4zM328,679.5v-2.2h1v2.2zM329,679.5v-7.8h1v7.8zM332,679.5v-14.0h1v14.0zM335,679.5v-5.5h1v5.5zM336,679.5v-3.3h1v3.3zM338,679.5v-5.5h1v5.5zM339,679.5v-6.9h1v6.9zM340,679.5v-3.3h1v3.3zM342,679.5v-3.8h1v3.8zM343,679.5v-5.1h1v5.1zM345,679.5v-5.1h1v5.1zM349,679.5v-8.5h1v8.5zM350,679.5v-5.3h1v5.3zM351,679.5v-5.3h1v5.3zM353,679.5v-1.8h1v1.8zM354,679.5v-3.0h1v3.0zM356,679.5v-4.9h1v4.9zM357,679.5v-5.5h1v5.5zM358,679.5v-6.2h1v6.2zM360,679.5v-9.1h1v9.1zM361,679.5v-19.0h1v19.0zM365,679.5v-9.4h1v9.4zM367,679.5v-8.2h1v8.2zM368,679.5v-5.9h1v5.9zM369,679.5v-4.0h1v4.0zM371,679.5v-6.7h1v6.7zM372,679.5v-6.7h1v6.7zM374,679.5v-6.8h1v6.8zM375,679.5v-7.5h1v7.5zM376,679.5v-6.2h1v6.2zM380,679.5v-3.5h1v3.5zM382,679.5v-4.2h1v4.2zM383,679.5v-8.9h1v8.9zM385,679.5v-2.1h1v2.1zM386,679.5v-7.2h1v7.2zM387,679.5v-6.5h1v6.5zM389,679.5v-7.2h1v7.2zM390,679.5v-3.6h1v3.6zM392,679.5v-15.0h1v15.0zM396,679.5v-5.2h1v5.2zM397,679.5v-9.3h1v9.3zM398,679.5v-5.2h1v5.2zM400,679.5v-5.3h1v5.3zM401,679.5v-7.5h1v7.5zM403,679.5v-6.1h1v6.1zM404,679.5v-4.6h1v4.6zM405,679.5v-11.1h1v11.1zM411,679.5v-11.3h1v11.3zM412,679.5v-7.0h1v7.0zM414,679.5v-7.9h1v7.9zM415,679.5v-38.0h1v38.0zM416,679.5v-25.0h1v25.0zM418,679.5v-8.8h1v8.8zM419,679.5v-8.0h1v8.0zM421,679.5v-8.7h1v8.7zM425,679.5v-7.0h1v7.0zM426,679.5v-11.2h1v11.2zM427,679.5v-6.1h1v6.1zM429,679.5v-11.0h1v11.0zM430,679.5v-6.8h1v6.8zM432,679.5v-4.0h1v4.0zM433,679.5v-6.7h1v6.7zM434,679.5v-4.4h1v4.4zM436,679.5v-6.5h1v6.5zM440,679.5v-9.6h1v9.6zM441,679.5v-8.8h1v8.8zM443,679.5v-7.0h1v7.0zM444,679.5v-10.0h1v10.0zM445,679.5v-4.8h1v4.8zM447,679.5v-9.8h1v9.8zM448,679.5v-6.4h1v6.4zM450,679.5v-8.3h1v8.3zM451,679.5v-4.0h1v4.0zM452,679.5v-5.9h1v5.9zM456,679.5v-9.3h1v9.3zM458,679.5v-5.0h1v5.0zM459,679.5v-3.7h1v3.7zM461,679.5v-2.5h1v2.5zM462,679.5v-14.0h1v14.0zM463,679.5v-2.4h1v2.4zM465,679.5v-5.4h1v5.4zM466,679.5v-3.0h1v3.0zM472,679.5v-4.1h1v4.1zM473,679.5v-2.9h1v2.9zM474,679.5v-6.4h1v6.4zM476,679.5v-3.5h1v3.5zM477,679.5v-2.3h1v2.3zM479,679.5v-5.8h1v5.8zM480,679.5v-4.6h1v4.6zM481,679.5v-1.7h1v1.7zM487,679.5v-8.2h1v8.2zM488,679.5v-4.5h1v4.5zM490,679.5v-1.7h1v1.7zM491,679.5v-1.7h1v1.7zM492,679.5v-2.8h1v2.8zM494,679.5v-5.5h1v5.5zM495,679.5v-5.0h1v5.0zM497,679.5v-2.2h1v2.2zM501,679.5v-6.0h1v6.0zM502,679.5v-4.3h1v4.3zM503,679.5v-3.2h1v3.2zM505,679.5v-4.8h1v4.8zM506,679.5v-4.3h1v4.3zM508,679.5v-1.6h1v1.6zM509,679.5v-4.8h1v4.8zM510,679.5v-7.7h1v7.7zM512,679.5v-2.6h1v2.6zM516,679.5v-5.2h1v5.2zM517,679.5v-4.7h1v4.7zM519,679.5v-2.6h1v2.6zM520,679.5v-5.7h1v5.7zM521,679.5v-3.1h1v3.1zM523,679.5v-4.1h1v4.1zM524,679.5v-3.1h1v3.1zM526,679.5v-8.5h1v8.5zM527,679.5v-5.5h1v5.5zM528,679.5v-6.3h1v6.3zM532,679.5v-6.5h1v6.5zM534,679.5v-7.4h1v7.4zM535,679.5v-7.2h1v7.2zM537,679.5v-7.2h1v7.2zM538,679.5v-10.5h1v10.5zM539,679.5v-12.8h1v12.8zM541,679.5v-2.7h1v2.7zM542,679.5v-6.1h1v6.1zM548,679.5v-3.7h1v3.7zM549,679.5v-4.7h1v4.7zM550,679.5v-9.4h1v9.4zM552,679.5v-9.5h1v9.5zM553,679.5v-5.7h1v5.7zM555,679.5v-8.6h1v8.6zM556,679.5v-8.7h1v8.7zM557,679.5v-9.7h1v9.7zM563,679.5v-7.9h1v7.9zM564,679.5v-8.0h1v8.0zM566,679.5v-5.0h1v5.0zM567,679.5v-9.9h1v9.9zM568,679.5v-10.9h1v10.9zM570,679.5v-19.2h1v19.2zM571,679.5v-12.2h1v12.2zM573,679.5v-2.9h1v2.9zM577,679.5v-7.7h1v7.7zM578,679.5v-10.5h1v10.5zM579,679.5v-9.5h1v9.5zM581,679.5v-5.7h1v5.7zM582,679.5v-11.7h1v11.7zM584,679.5v-8.4h1v8.4zM585,679.5v-9.3h1v9.3zM586,679.5v-9.2h1v9.2zM588,679.5v-5.5h1v5.5zM592,679.5v-4.9h1v4.9zM593,679.5v-5.4h1v5.4zM595,679.5v-11.1h1v11.1zM596,679.5v-9.8h1v9.8zM597,679.5v-11.0h1v11.0zM599,679.5v-12.7h1v12.7zM600,679.5v-15.0h1v15.0zM602,679.5v-8.6h1v8.6zM603,679.5v-14.5h1v14.5zM607,679.5v-10.6h1v10.6zM608,679.5v-5.9h1v5.9zM610,679.5v-11.3h1v11.3zM611,679.5v-12.1h1v12.1zM613,679.5v-6.6h1v6.6zM614,679.5v-4.9h1v4.9zM615,679.5v-10.2h1v10.2zM617,679.5v-8.1h1v8.1zM618,679.5v-11.7h1v11.7zM624,679.5v-6.4h1v6.4zM625,679.5v-2.4h1v2.4zM626,679.5v-11.6h1v11.6zM628,679.5v-8.8h1v8.8zM629,679.5v-8.0h1v8.0zM631,679.5v-11.6h1v11.6zM632,679.5v-4.8h1v4.8zM633,679.5v-10.0h1v10.0zM639,679.5v-5.6h1v5.6zM640,679.5v-6.4h1v6.4zM642,679.5v-5.6h1v5.6zM643,679.5v-2.4h1v2.4zM644,679.5v-11.6h1v11.6zM646,679.5v-3.2h1v3.2zM647,679.5v-2.4h1v2.4zM649,679.5v-3.2h1v3.2zM653,679.5v-8.0h1v8.0zM654,679.5v-4.8h1v4.8zM655,679.5v-3.2h1v3.2zM657,679.5v-11.6h1v11.6zM658,679.5v-6.4h1v6.4zM660,679.5v-11.6h1v11.6zM661,679.5v-4.8h1v4.8zM662,679.5v-8.0h1v8.0zM664,679.5v-8.0h1v8.0zM668,679.5v-8.0h1v8.0zM669,679.5v-8.0h1v8.0zM671,679.5v-4.0h1v4.0zM672,679.5v-4.8h1v4.8zM673,679.5v-11.6h1v11.6zM675,679.5v-4.0h1v4.0zM676,679.5v-8.0h1v8.0zM678,679.5v-4.8h1v4.8zM679,679.5v-4.0h1v4.0zM683,679.5v-3.2h1v3.2zM684,679.5v-7.2h1v7.2zM686,679.5v-7.2h1v7.2zM687,679.5v-5.6h1v5.6zM689,679.5v-11.6h1v11.6zM690,679.5v-7.2h1v7.2zM691,679.5v-7.2h1v7.2zM693,679.5v-10.0h1v10.0zM694,679.5v-10.0h1v10.0zM700,679.5v-2.4h1v2.4zM701,679.5v-10.0h1v10.0zM702,679.5v-6.4h1v6.4zM704,679.5v-4.3h1v4.3zM705,679.5v-11.6h1v11.6zM707,679.5v-3.2h1v3.2zM708,679.5v-11.6h1v11.6zM709,679.5v-6.4h1v6.4zM715,679.5v-2.4h1v2.4zM716,679.5v-2.4h1v2.4zM718,679.5v-10.0h1v10.0zM719,679.5v-5.6h1v5.6zM720,679.5v-7.2h1v7.2zM722,679.5v-3.2h1v3.2zM723,679.5v-10.0h1v10.0zM725,679.5v-4.0h1v4.0zM729,679.5v-8.0h1v8.0zM730,679.5v-7.2h1v7.2zM731,679.5v-10.8h1v10.8zM733,679.5v-6.4h1v6.4zM734,679.5v-8.0h1v8.0zM736,679.5v-6.4h1v6.4zM737,679.5v-2.4h1v2.4zM738,679.5v-4.0h1v4.0zM740,679.5v-2.4h1v2.4zM744,679.5v-4.0h1v4.0zM745,679.5v-4.8h1v4.8zM747,679.5v-11.6h1v11.6zM748,679.5v-8.0h1v8.0zM749,679.5v-11.6h1v11.6zM751,679.5v-8.0h1v8.0zM752,679.5v-5.6h1v5.6zM754,679.5v-8.0h1v8.0zM755,679.5v-11.6h1v11.6zM759,679.5v-8.8h1v8.8zM760,679.5v-6.4h1v6.4zM762,679.5v-10.0h1v10.0zM763,679.5v-8.8h1v8.8zM765,679.5v-6.4h1v6.4zM766,679.5v-30.0h1v30.0zM767,679.5v-11.6h1v11.6zM769,679.5v-10.0h1v10.0zM770,679.5v-8.0h1v8.0zM774,679.5v-8.0h1v8.0zM776,679.5v-8.0h1v8.0zM777,679.5v-3.2h1v3.2zM778,679.5v-4.0h1v4.0zM780,679.5v-2.4h1v2.4zM781,679.5v-8.0h1v8.0zM783,679.5v-2.4h1v2.4zM784,679.5v-10.0h1v10.0zM785,679.5v-8.8h1v8.8zM791,679.5v-4.0h1v4.0zM792,679.5v-13.5h1v13.5zM794,679.5v-8.0h1v8.0zM795,679.5v-2.4h1v2.4zM796,679.5v-8.8h1v8.8zM798,679.5v-10.8h1v10.8zM799,679.5v-7.2h1v7.2zM801,679.5v-2.4h1v2.4zM805,679.5v-9.7h1v9.7zM806,679.5v-9.4h1v9.4zM807,679.5v-3.1h1v3.1zM809,679.5v-2.3h1v2.3zM810,679.5v-11.0h1v11.0zM812,679.5v-10.9h1v10.9zM813,679.5v-3.0h1v3.0zM814,679.5v-7.4h1v7.4zM816,679.5v-2.2h1v2.2zM820,679.5v-7.9h1v7.9zM821,679.5v-5.7h1v5.7zM823,679.5v-7.1h1v7.1zM824,679.5v-2.8h1v2.8zM825,679.5v-6.3h1v6.3zM827,679.5v-7.6h1v7.6zM828,679.5v-8.6h1v8.6zM830,679.5v-7.5h1v7.5zM831,679.5v-7.4h1v7.4zM835,679.5v-4.6h1v4.6zM836,679.5v-5.9h1v5.9zM838,679.5v-3.2h1v3.2zM839,679.5v-6.4h1v6.4zM841,679.5v-2.5h1v2.5zM842,679.5v-3.8h1v3.8zM843,679.5v-3.8h1v3.8zM845,679.5v-6.2h1v6.2zM846,679.5v-1.8h1v1.8zM850,679.5v-4.3h1v4.3zM852,679.5v-7.2h1v7.2zM853,679.5v-3.1h1v3.1zM854,679.5v-9.0h1v9.0zM856,679.5v-4.6h1v4.6zM857,679.5v-3.9h1v3.9zM859,679.5v-5.4h1v5.4zM860,679.5v-11.3h1v11.3zM861,679.5v-13.0h1v13.0zM867,679.5v-6.4h1v6.4zM868,679.5v-12.9h1v12.9zM870,679.5v-5.3h1v5.3zM871,679.5v-24.0h1v24.0zM872,679.5v-14.9h1v14.9zM874,679.5v-17.2h1v17.2zM875,679.5v-7.0h1v7.0zM877,679.5v-8.5h1v8.5zM881,679.5v-14.8h1v14.8zM882,679.5v-14.9h1v14.9zM883,679.5v-4.5h1v4.5zM885,679.5v-16.9h1v16.9zM886,679.5v-12.4h1v12.4zM888,679.5v-15.8h1v15.8zM889,679.5v-8.0h1v8.0zM890,679.5v-9.8h1v9.8zM892,679.5v-80.0h1v80.0zM893,679.5v-64.0h1v64.0zM896,679.5v-64.0h1v64.0zM897,679.5v-48.0h1v48.0zM899,679.5v-15.8h1v15.8zM900,679.5v-44.0h1v44.0zM901,679.5v-38.0h1v38.0zM903,679.5v-58.0h1v58.0zM904,679.5v-10.9h1v10.9zM905,679.5v-25.0h1v25.0zM906,679.5v-21.1h1v21.1zM907,679.5v-25.7h1v25.7zM911,679.5v-11.2h1v11.2zM912,679.5v-16.2h1v16.2zM914,679.5v-11.9h1v11.9zM915,679.5v-40.0h1v40.0zM917,679.5v-15.3h1v15.3zM918,679.5v-13.5h1v13.5zM919,679.5v-7.5h1v7.5zM921,679.5v-8.9h1v8.9zM922,679.5v-21.5h1v21.5zM926,679.5v-11.9h1v11.9zM928,679.5v-13.1h1v13.1zM929,679.5v-11.6h1v11.6zM930,679.5v-14.5h1v14.5zM932,679.5v-14.4h1v14.4zM933,679.5v-38.0h1v38.0zM935,679.5v-20.7h1v20.7zM936,679.5v-11.4h1v11.4zM937,679.5v-5.7h1v5.7zM941,679.5v-5.6h1v5.6zM943,679.5v-4.3h1v4.3zM944,679.5v-9.1h1v9.1zM946,679.5v-8.5h1v8.5zM947,679.5v-7.2h1v7.2zM948,679.5v-32.0h1v32.0zM950,679.5v-20.5h1v20.5zM951,679.5v-17.1h1v17.1zM953,679.5v-16.2h1v16.2zM957,679.5v-15.7h1v15.7zM958,679.5v-27.0h1v27.0zM959,679.5v-8.3h1v8.3zM961,679.5v-30.0h1v30.0zM962,679.5v-9.0h1v9.0zM964,679.5v-24.0h1v24.0zM965,679.5v-24.0h1v24.0zM966,679.5v-30.0h1v30.0zM968,679.5v-48.0h1v48.0zM969,679.5v-40.0h1v40.0zM972,679.5v-50.6h1v50.6zM973,679.5v-27.0h1v27.0zM975,679.5v-12.2h1v12.2zM976,679.5v-48.0h1v48.0zM977,679.5v-9.0h1v9.0zM979,679.5v-39.0h1v39.0zM980,679.5v-21.0h1v21.0zM982,679.5v-33.0h1v33.0zM983,679.5v-12.0h1v12.0zM987,679.5v-17.8h1v17.8zM988,679.5v-16.3h1v16.3zM990,679.5v-12.0h1v12.0zM991,679.5v-16.0h1v16.0zM993,679.5v-75.0h1v75.0zM994,679.5v-16.0h1v16.0zM995,679.5v-86.0h1v86.0zM997,679.5v-12.0h1v12.0zM998,679.5v-14.0h1v14.0zM1001,679.5v-33.0h1v33.0zM1002,679.5v-6.0h1v6.0zM1004,679.5v-8.0h1v8.0zM1005,679.5v-9.9h1v9.9zM1006,679.5v-24.1h1v24.1zM1008,679.5v-18.2h1v18.2zM1009,679.5v-17.7h1v17.7zM1011,679.5v-27.0h1v27.0zM1012,679.5v-16.2h1v16.2zM1013,679.5v-17.2h1v17.2zM1017,679.5v-10.4h1v10.4zM1019,679.5v-13.3h1v13.3zM1020,679.5v-14.7h1v14.7zM1022,679.5v-10.2h1v10.2zM1023,679.5v-16.0h1v16.0zM1024,679.5v-16.0h1v16.0zM1026,679.5v-13.0h1v13.0zM1027,679.5v-10.1h1v10.1zM1033,679.5v-11.3h1v11.3zM1034,679.5v-4.2h1v4.2zM1035,679.5v-12.5h1v12.5zM1037,679.5v-14.9h1v14.9zM1038,679.5v-13.3h1v13.3zM1040,679.5v-14.2h1v14.2zM1041,679.5v-5.1h1v5.1zM1042,679.5v-5.0h1v5.0zM1044,679.5v-23.0h1v23.0zM1048,679.5v-11.3h1v11.3zM1049,679.5v-3.3h1v3.3zM1051,679.5v-12.2h1v12.2zM1052,679.5v-16.1h1v16.1zM1053,679.5v-16.2h1v16.2zM1055,679.5v-4.5h1v4.5zM1056,679.5v-5.7h1v5.7zM1058,679.5v-14.3h1v14.3zM1059,679.5v-27.0h1v27.0zM1063,679.5v-11.7h1v11.7zM1064,679.5v-3.5h1v3.5zM1066,679.5v-9.5h1v9.5zM1067,679.5v-8.0h1v8.0zM1069,679.5v-13.2h1v13.2zM1070,679.5v-14.8h1v14.8zM1071,679.5v-13.9h1v13.9zM1073,679.5v-14.8h1v14.8zM1074,679.5v-25.0h1v25.0zM1078,679.5v-6.1h1v6.1zM1080,679.5v-17.1h1v17.1zM1081,679.5v-20.7h1v20.7zM1082,679.5v-6.5h1v6.5zM1084,679.5v-7.4h1v7.4zM1085,679.5v-10.0h1v10.0zM1087,679.5v-4.0h1v4.0zM1088,679.5v-8.0h1v8.0zM1089,679.5v-91.5h1v91.5zM1091,679.5v-21.0h1v21.0z" fill="#bcbcbc" shape-rendering="crispEdges"/>
<rect x="57.5" y="516.5" width="1085.0" height="163.0" fill="none" stroke="#000" stroke-width="1.15"/>
<g stroke="#000" stroke-width="1.15">
<line x1="52.5" y1="679.5" x2="57.5" y2="679.5"/>
<line x1="52.5" y1="630.5" x2="57.5" y2="630.5"/>
<line x1="52.5" y1="582.5" x2="57.5" y2="582.5"/>
<line x1="52.5" y1="533.5" x2="57.5" y2="533.5"/>
<line x1="188.5" y1="679.5" x2="188.5" y2="684.5"/>
<line x1="377.5" y1="679.5" x2="377.5" y2="684.5"/>
<line x1="566.5" y1="679.5" x2="566.5" y2="684.5"/>
<line x1="754.5" y1="679.5" x2="754.5" y2="684.5"/>
<line x1="944.5" y1="679.5" x2="944.5" y2="684.5"/>
<line x1="1132.5" y1="679.5" x2="1132.5" y2="684.5"/>
</g>
<text x="46.4" y="684.0" font-size="12.3" text-anchor="end" fill="#000" textLength="19.5" lengthAdjust="spacingAndGlyphs">0.0</text>
<text x="46.4" y="635.0" font-size="12.3" text-anchor="end" fill="#000" textLength="19.5" lengthAdjust="spacingAndGlyphs">0.5</text>
<text x="46.4" y="587.0" font-size="12.3" text-anchor="end" fill="#000" textLength="19.5" lengthAdjust="spacingAndGlyphs">1.0</text>
<text x="46.4" y="538.0" font-size="12.3" text-anchor="end" fill="#000" textLength="19.5" lengthAdjust="spacingAndGlyphs">1.5</text>
<text x="188.7" y="699.0" font-size="12.4" text-anchor="middle" fill="#000" textLength="52.4" lengthAdjust="spacingAndGlyphs">2021-01</text>
<text x="377.7" y="699.0" font-size="12.4" text-anchor="middle" fill="#000" textLength="52.4" lengthAdjust="spacingAndGlyphs">2022-01</text>
<text x="566.7" y="699.0" font-size="12.4" text-anchor="middle" fill="#000" textLength="52.4" lengthAdjust="spacingAndGlyphs">2023-01</text>
<text x="754.7" y="699.0" font-size="12.4" text-anchor="middle" fill="#000" textLength="52.4" lengthAdjust="spacingAndGlyphs">2024-01</text>
<text x="944.7" y="699.0" font-size="12.4" text-anchor="middle" fill="#000" textLength="52.4" lengthAdjust="spacingAndGlyphs">2025-01</text>
<text x="1132.7" y="699.0" font-size="12.4" text-anchor="middle" fill="#000" textLength="52.4" lengthAdjust="spacingAndGlyphs">2026-01</text>
<text x="57.6" y="511.9" font-size="12.3" text-anchor="start" fill="#000" textLength="21.8" lengthAdjust="spacingAndGlyphs">1e7</text>
<text transform="translate(18.2,600.1) rotate(-90)" font-size="12.3" text-anchor="middle" textLength="43" lengthAdjust="spacingAndGlyphs">Volume</text>
</g>
<g id="txt">
<text x="57.5" y="736.8" font-size="16.4" text-anchor="start" fill="#000" textLength="110.9" lengthAdjust="spacingAndGlyphs">FXI 交易次数: 2</text>
<text x="57.5" y="756.8" font-size="16.4" text-anchor="start" fill="#000" textLength="165.8" lengthAdjust="spacingAndGlyphs">策略总收益率: 11.66%</text>
<text x="57.5" y="776.0" font-size="16.4" text-anchor="start" fill="#000" textLength="155.5" lengthAdjust="spacingAndGlyphs">长期持有收益: 6.07%</text>
<text x="57.5" y="795.8" font-size="16.4" text-anchor="start" fill="#000" textLength="69.8" lengthAdjust="spacingAndGlyphs">交易记录:</text>
<text x="67.8" y="812.5" font-size="16.0" text-anchor="start" fill="#000" textLength="64.2" lengthAdjust="spacingAndGlyphs">Buy Date</text>
<text x="143.2" y="812.5" font-size="16.0" text-anchor="start" fill="#000" textLength="65.7" lengthAdjust="spacingAndGlyphs">Buy Price</text>
<text x="220.2" y="812.5" font-size="16.0" text-anchor="start" fill="#000" textLength="65.2" lengthAdjust="spacingAndGlyphs">Sell Date</text>
<text x="296.7" y="812.5" font-size="16.0" text-anchor="start" fill="#000" textLength="66.2" lengthAdjust="spacingAndGlyphs">Sell Price</text>
<text x="374.2" y="812.5" font-size="16.0" text-anchor="start" fill="#000" textLength="93.9" lengthAdjust="spacingAndGlyphs">Holding Days</text>
<text x="479.5" y="812.5" font-size="16.0" text-anchor="start" fill="#000" textLength="54.4" lengthAdjust="spacingAndGlyphs">Profit %</text>
<text x="57.5" y="829.7" font-size="16.0" text-anchor="start" fill="#000" textLength="88.8" lengthAdjust="spacingAndGlyphs">2020-10-05</text>
<text x="176.6" y="829.7" font-size="16.0" text-anchor="start" fill="#000" textLength="45.2" lengthAdjust="spacingAndGlyphs">37.70</text>
<text x="226.9" y="829.7" font-size="16.0" text-anchor="start" fill="#000" textLength="88.8" lengthAdjust="spacingAndGlyphs">2021-02-22</text>
<text x="351.6" y="829.7" font-size="16.0" text-anchor="start" fill="#000" textLength="44.7" lengthAdjust="spacingAndGlyphs">46.82</text>
<text x="451.2" y="829.7" font-size="16.0" text-anchor="start" fill="#000" textLength="29.3" lengthAdjust="spacingAndGlyphs">140</text>
<text x="506.7" y="829.7" font-size="16.0" text-anchor="start" fill="#000" textLength="43.6" lengthAdjust="spacingAndGlyphs">24.19</text>
<text x="57.5" y="847.5" font-size="16.0" text-anchor="start" fill="#000" textLength="88.8" lengthAdjust="spacingAndGlyphs">2021-02-26</text>
<text x="177.6" y="847.5" font-size="16.0" text-anchor="start" fill="#000" textLength="44.1" lengthAdjust="spacingAndGlyphs">44.48</text>
<text x="226.9" y="847.5" font-size="16.0" text-anchor="start" fill="#000" textLength="89.3" lengthAdjust="spacingAndGlyphs">2025-10-16</text>
<text x="351.6" y="847.5" font-size="16.0" text-anchor="start" fill="#000" textLength="44.7" lengthAdjust="spacingAndGlyphs">39.99</text>
<text x="447.1" y="847.5" font-size="16.0" text-anchor="start" fill="#000" textLength="38.5" lengthAdjust="spacingAndGlyphs">1692</text>
<text x="505.6" y="847.5" font-size="16.0" text-anchor="start" fill="#000" textLength="49.8" lengthAdjust="spacingAndGlyphs">-10.09</text>
</g>
</svg>
</body></html>
